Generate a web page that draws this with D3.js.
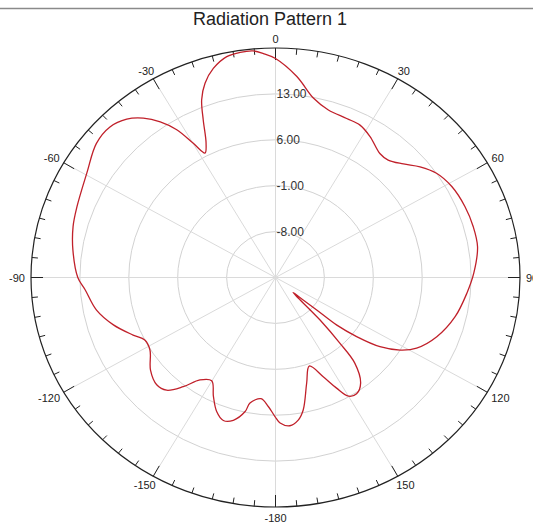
<!DOCTYPE html>
<html>
<head>
<meta charset="utf-8">
<script src="https://cdn.jsdelivr.net/npm/d3@7"></script>
<style>
  html, body { margin: 0; padding: 0; background: #fff; }
  svg { display: block; }
  text { font-family: "Liberation Sans", Arial, sans-serif; }
</style>
</head>
<body>
<script>
// ---- data (angle in degrees, clockwise from top; gain in dB) ----
const angles = [0, 5.7, 11.2, 16.5, 22.8, 27.5, 32.2, 38.3, 42.0, 46.6, 50.8, 55.4, 61.2, 68.3, 74.7, 80.8, 88.6,
  95.0, 103.1, 111.4, 118.1, 121.8, 125.2, 127.8, 129.6, 130.0, 130.8, 132.3, 135.5, 137.4, 139.0, 142.9,
  146.8, 150.0, 152.6, 155.7, 160.3, 164.5, 168.9, 171.5, 174.8, 178.3, 180.2, 183.0, 186.4, 190.8, 192.0,
  195.5, 198.9, 202.4, 206.1, 210.1, 214.7, 218.4, 222.2, 226.1, 231.7, 238.4, 243.0, 246.7, 252.7, 259.0,
  266.0, 270.0, 278.2, 285.0, 290.8, 300.5, 308.6, 314.1, 318.6, 322.1, 325.2, 327.9, 330.1, 332.0, 334.1,
  336.7, 338.7, 341.2, 344.4, 348.3, 351.6, 354.7, 357.1];
const gains = [18.4, 15.8, 12.9, 11.65, 11.3, 11.2, 10.4, 9.1, 9.1, 10.2, 11.7, 13.0, 13.8, 14.2, 14.35, 14.3, 13.4,
  12.5, 11.4, 9.8, 7.9, 6.0, 3.3, -0.3, -3.6, -7.3, -9.7, -11.6, -5.9, -1.4, 2.3, 5.2,
  6.2, 5.9, 4.0, 1.6, -0.66, 1.7, 5.6, 7.0, 7.7, 7.2, 6.2, 4.7, 3.6, 4.5, 5.9,
  7.6, 8.05, 7.1, 5.2, 3.2, 4.0, 6.25, 8.2, 8.6, 7.8, 6.1, 6.0, 7.2, 9.3, 11.1,
  12.3, 13.3, 14.3, 15.0, 15.4, 16.35, 17.8, 18.0, 17.2, 15.8, 13.9, 11.6, 8.6, 6.5, 7.75,
  11.15, 14.1, 16.3, 18.1, 19.4, 19.7, 19.7, 19.2];
const ringValues = [-8, -1, 6, 13];
const ringLabels = ["-8.00", "-1.00", "6.00", "13.00"];
const angleTicks = [0, 30, 60, 90, 120, 150, 180, 210, 240, 270, 300, 330];
const angleLabels = ["0", "30", "60", "90", "120", "150", "-180", "-150", "-120", "-90", "-60", "-30"];
const title = "Radiation Pattern 1";

// ---- layout ----
const W = 533, H = 523;
const cx = 275.5, cy = 277.5, RX = 244.5, RY = 229.5;
const rScale = d3.scaleLinear().domain([-15, 20]).range([0, 1]);
const toRad = d => d * Math.PI / 180;
const px = (a, v) => cx + RX * rScale(v) * Math.sin(toRad(a));
const py = (a, v) => cy - RY * rScale(v) * Math.cos(toRad(a));

const svg = d3.select("body").append("svg").attr("width", W).attr("height", H);

// top border line
svg.append("line").attr("x1", 0).attr("x2", W).attr("y1", 8.5).attr("y2", 8.5)
  .attr("stroke", "#8a8a8a").attr("stroke-width", 1.5);

// title
svg.append("text").attr("x", 270).attr("y", 25).attr("text-anchor", "middle")
  .attr("font-size", 18).attr("fill", "#222").text(title);

// rings
svg.selectAll("ellipse.ring").data(ringValues).enter().append("ellipse")
  .attr("class", "ring").attr("cx", cx).attr("cy", cy)
  .attr("rx", d => RX * rScale(d)).attr("ry", d => RY * rScale(d))
  .attr("fill", "none").attr("stroke", "#d2d2d2").attr("stroke-width", 1);

// spokes
svg.selectAll("line.spoke").data(angleTicks).enter().append("line")
  .attr("class", "spoke")
  .attr("x1", cx).attr("y1", cy)
  .attr("x2", d => px(d, 20)).attr("y2", d => py(d, 20))
  .attr("stroke", "#dadada").attr("stroke-width", 1);

// outer ellipse
svg.append("ellipse").attr("cx", cx).attr("cy", cy).attr("rx", RX).attr("ry", RY)
  .attr("fill", "none").attr("stroke", "#222").attr("stroke-width", 1.2);

// ticks every 5 degrees
const tickAngles = d3.range(0, 360, 5);
svg.selectAll("line.tick").data(tickAngles).enter().append("line")
  .attr("class", "tick")
  .attr("x1", d => cx + RX * Math.sin(toRad(d))).attr("y1", d => cy - RY * Math.cos(toRad(d)))
  .attr("x2", d => { const L = d % 30 === 0 ? 12 : 6; return cx + (RX - L) * Math.sin(toRad(d)); })
  .attr("y2", d => { const L = d % 30 === 0 ? 12 : 6; return cy - (RY - L) * Math.cos(toRad(d)); })
  .attr("stroke", "#222").attr("stroke-width", 1);

// angle labels
angleTicks.forEach((a, i) => {
  const t = svg.append("text").attr("font-size", 11).attr("fill", "#222")
    .attr("text-anchor", "middle").attr("dominant-baseline", "central").text(angleLabels[i]);
  const w = t.node().getComputedTextLength();
  const s = Math.sin(toRad(a)), c = Math.cos(toRad(a));
  const x = cx + RX * s + s * (6 + w / 2);
  const y = cy - RY * c - c * 10 + 0.5;
  t.attr("x", x).attr("y", y);
});

// ring labels
svg.selectAll("text.rl").data(ringValues).enter().append("text")
  .attr("class", "rl").attr("x", cx + 1).attr("y", d => cy - RY * rScale(d))
  .attr("dominant-baseline", "central").attr("font-size", 12).attr("fill", "#333")
  .text((d, i) => ringLabels[i]);

// pattern curve
const pts = angles.map((a, i) => [px(a, gains[i]), py(a, gains[i])]);
svg.append("path").datum(pts)
  .attr("d", d3.line().curve(d3.curveCatmullRomClosed.alpha(0.5)))
  .attr("fill", "none").attr("stroke", "#c0202a").attr("stroke-width", 1.3);
</script>
</body>
</html>
